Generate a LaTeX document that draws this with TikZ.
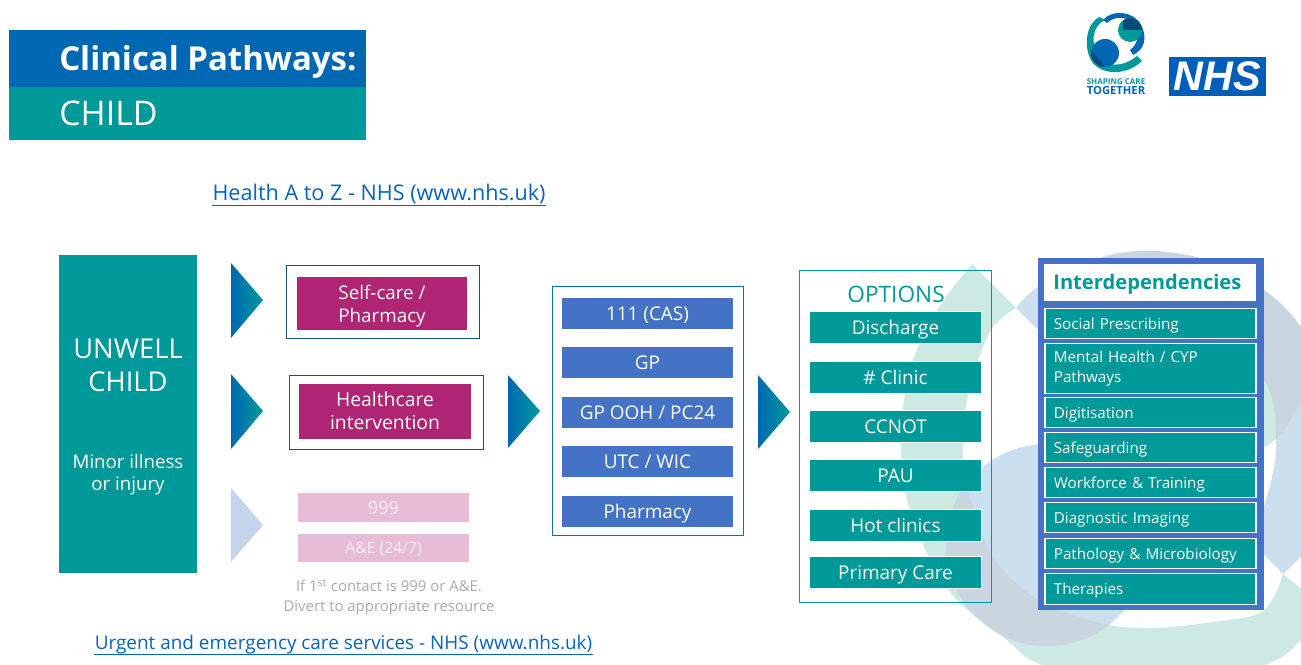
\documentclass[tikz,border=0pt]{standalone}
\usepackage{fontspec}
\usepackage{graphicx}
\setmainfont{Open Sans}
\newfontfamily\nhsfont{Liberation Sans}
\definecolor{cTeal}{HTML}{009999}
\definecolor{cBlue}{HTML}{0068B3}
\definecolor{cItem}{HTML}{4472C4}
\definecolor{cMag}{HTML}{AF2473}
\definecolor{cPale}{HTML}{E6BCD6}
\definecolor{cPaleTxt}{HTML}{F9EEF5}
\definecolor{cFrameA}{HTML}{1A5276}
\definecolor{cFrameB}{HTML}{0072BC}
\definecolor{cNote}{HTML}{A9A9A9}
\definecolor{cLink}{HTML}{0563C1}
\definecolor{bgTeal}{HTML}{CCE9E4}
\definecolor{bgBlue}{HTML}{CBDFEF}
\definecolor{bgGray}{HTML}{C9D5DF}
\definecolor{cNHS}{HTML}{005EB8}
\definecolor{cNavy}{HTML}{0B4A78}
\definecolor{cPaleArrow}{HTML}{C5D4EC}
\newcommand\fsz[1]{\fontsize{#1}{#1}\selectfont}
\newcommand\bx[7]{\node[inner sep=0pt,outer sep=0pt,minimum width={(#4-#2)*0.75pt},minimum height={(#5-#3)*0.75pt},align=center,#6] (#1) at ({(#2+#4)/2},{(#3+#5)/2}) {#7};}
\newcommand\crescentPath{(972,264) -- plot[smooth,tension=.6] coordinates {(972,264) (937,310) (913,360) (903,407) (901,453) (907,500) (927,553) (957,600) (1007,640) (1040,664) (1150,700) (1267,664) (1301,640) (1330,612)} -- (1283,574) -- plot[smooth,tension=.6] coordinates {(1283,574) (1263,611) (1213,622) (1150,628) (1100,623) (1038,600) (993,557) (970,497) (963,457) (968,395) (990,332) (1016,308)} -- cycle}
\newcommand\blobPath{(1060,300) -- plot[smooth,tension=.6] coordinates {(1060,300) (1090,262) (1145,251) (1210,261) (1264,290) (1301,327) (1330,365) (1301,403) (1277,438) (1250,455)} -- (1100,450) -- cycle}
\newcommand\arcPath{(1016,308) -- plot[smooth,tension=.6] coordinates {(1016,308) (1038,287) (1090,262) (1145,251) (1210,261) (1264,290) (1301,327) (1340,400) (1340,520) (1301,557) (1283,574)} -- (1250,541) -- plot[smooth,tension=.6] coordinates {(1250,541) (1264,507) (1276,447) (1264,380) (1200,340) (1120,330)} -- (1060,352) -- (1038,330) -- cycle}
\newcommand\capstrut{\rule[-.3em]{0pt}{1.34em}}
\tikzset{
 oneline/.style={execute at begin node=\capstrut},
 tealbox/.style={fill=cTeal,text=white},
 itembox/.style={fill=cItem,text=white,font=\fsz{14.2},oneline},
 optbox/.style={fill=cTeal,draw=white,line width=1.1pt,text=white,font=\fsz{14.2},oneline},
 depbox/.style={fill=cTeal,draw=white,line width=1.1pt,text=white,font=\fsz{11.4},align=left,text width=145pt},
 depone/.style={depbox,oneline},
 magbox/.style={fill=cMag,text=white},
 palebox/.style={fill=cPale,text=cPaleTxt,font=\fsz{13.6},oneline},
 framea/.style={draw=cFrameA,line width=.7pt},
 frameb/.style={draw=cFrameB,line width=.7pt},
 framec/.style={draw=cTeal,line width=.7pt},
 grad/.style={left color=cBlue,right color=cTeal},
 linktxt/.style={text=cLink,inner sep=0pt,oneline},
 wtext/.style={text=white,inner sep=0pt,oneline},
 multi/.style={text=white,inner sep=0pt,align=center},
}
\begin{document}
\begin{tikzpicture}[x=.75pt,y=-.75pt]
\useasboundingbox (0,0) rectangle (1301,664);
\begin{scope}
\clip (0,0) rectangle (1301,664);
\fill[bgTeal] \crescentPath;
\fill[bgTeal] \blobPath;
\fill[bgBlue] \arcPath;
\fill[bgBlue] (1047,545) circle (101);
\begin{scope}\clip \crescentPath; \fill[bgGray] (1047,545) circle (101);\end{scope}
\begin{scope}\clip \blobPath; \fill[bgGray] \arcPath;\end{scope}
\end{scope}
% title
\bx{tb}{9}{30}{366}{87}{fill=cBlue}{}
\bx{tc}{9}{87}{366}{140}{fill=cTeal}{}
\node[wtext,anchor=west,font=\bfseries\fsz{24.7}] (tt) at (59,58) {Clinical Pathways:};
\node[wtext,anchor=west,font=\fsz{25.5}] (tch) at (59,113) {CHILD};
% logo
\fill[cTeal] (1099.5,17) .. controls (1085,24) and (1083,50) .. (1093,63) .. controls (1103,75) and (1126,76) .. (1142,61) -- (1137,56) .. controls (1122,68) and (1106,67) .. (1099,56) .. controls (1090,44) and (1092,26) .. (1105,20) -- cycle;
\fill[cBlue] (1103,20) .. controls (1112,9) and (1134,11) .. (1141,25) .. controls (1148,38) and (1144,50) .. (1133,55) -- (1130,50) .. controls (1138,44) and (1140,34) .. (1135,26) .. controls (1128,15) and (1114,16) .. (1107,23) -- cycle;
\fill[cTeal] (1130,30) circle (12);
\begin{scope}\clip (1130,30) circle (12); \fill[cNavy] (1123,9) rectangle (1145,30);\end{scope}
\fill[cBlue] (1105,53) circle (14);
\begin{scope}\clip (1105,53) circle (14); \fill[cNavy] (1091,50) -- (1108,70) -- (1088,70) -- cycle;\end{scope}
\node[inner sep=0pt,text=cTeal,font=\bfseries\fsz{6.0}] (lg1) at (1116,82) {SHAPING CARE};
\node[inner sep=0pt,text=cBlue,font=\bfseries\fsz{8.4}] (lg2) at (1116,90) {TOGETHER};
\bx{nhs}{1169}{57}{1266}{96}{fill=cNHS,text=white}{\nhsfont\bfseries\itshape\fsz{31}NHS}
% links
\node[linktxt,font=\fsz{16.2}] (la) at (379,192.5) {Health A to Z - NHS (www.nhs.uk)};
\draw[cLink,line width=.7pt] ([yshift=-3.8pt]la.base west) -- ([yshift=-3.8pt]la.base east);
\node[linktxt,font=\fsz{14.2}] (lb) at (343.5,642) {Urgent and emergency care services - NHS (www.nhs.uk)};
\draw[cLink,line width=.7pt] ([yshift=-3.8pt]lb.base west) -- ([yshift=-3.8pt]lb.base east);
% unwell
\bx{unw}{59}{255}{197}{573}{tealbox}{}
\node[wtext,font=\fsz{20.5}] (un1) at (128,348.5) {UNWELL};
\node[wtext,font=\fsz{20.5}] (un2) at (128,381.5) {CHILD};
\node[wtext,font=\fsz{14}] (un3) at (128,461.5) {Minor illness};
\node[wtext,font=\fsz{14}] (un4) at (128,483.5) {or injury};
% arrows
\shade[grad] (231,263) -- (263,300) -- (231,338) -- cycle;
\shade[grad] (231,374) -- (263,411) -- (231,449) -- cycle;
\fill[cPaleArrow] (231,488) -- (263,525) -- (231,562) -- cycle;
\shade[grad] (508,375) -- (540,411) -- (508,448) -- cycle;
\shade[grad] (758,375) -- (790,412) -- (758,449) -- cycle;
% column 2
\bx{fa}{286}{265}{479}{338}{framea}{}
\bx{sc}{297}{277}{467}{330}{magbox}{}
\node[multi,font=\fsz{14.1}] (sct) at (382,306) {Self-care /\\[3.3pt]Pharmacy};
\bx{fb}{289}{375}{483}{449}{framea}{}
\bx{hc}{299}{384}{471}{439}{magbox}{}
\node[multi,font=\fsz{14.5}] (hct) at (385,410.5) {Healthcare\\[2.8pt]intervention};
\bx{n9}{298}{493}{469}{522}{palebox}{999}
\bx{ae}{298}{534}{469}{562}{palebox,font=\fsz{11.8}}{A\&E (24/7)}
\node[inner sep=0pt,text=cNote,align=center,font=\fsz{11.2}] (note) at (389,597) {If 1\textsuperscript{st} contact is 999 or A\&E.\\[3.8pt]Divert to appropriate resource};
% column 3
\bx{fc}{552}{286}{743}{535}{frameb}{}
\bx{i1}{562}{298}{733}{329}{itembox}{111 (CAS)}
\bx{i2}{562}{347}{733}{378}{itembox}{GP}
\bx{i3}{562}{397}{733}{428}{itembox}{GP OOH / PC24}
\bx{i4}{562}{446}{733}{477}{itembox}{UTC / WIC}
\bx{i5}{562}{496}{733}{527}{itembox}{Pharmacy}
% options
\bx{fo}{799}{270}{991}{602}{framec}{}
\node[inner sep=0pt,text=cTeal,font=\fsz{17},oneline] (ot) at (896,294) {OPTIONS};
\bx{o1}{809.5}{311.5}{981.5}{343.5}{optbox}{Discharge}
\bx{o2}{809.5}{361.5}{981.5}{393.5}{optbox}{\# Clinic}
\bx{o3}{809.5}{410.5}{981.5}{442.5}{optbox}{CCNOT}
\bx{o4}{809.5}{459.5}{981.5}{491.5}{optbox}{PAU}
\bx{o5}{809.5}{509.5}{981.5}{541.5}{optbox}{Hot clinics}
\bx{o6}{809.5}{556.5}{981.5}{588.5}{optbox}{Primary Care}
% interdependencies
\bx{dp}{1038}{258}{1264}{610}{fill=cItem}{}
\bx{dh}{1044}{264}{1256}{301}{fill=white,text=cTeal,font=\bfseries\fsz{15.1},align=left,text width=145pt,oneline}{Interdependencies}
\bx{d1}{1045}{308.5}{1256}{338.5}{depone}{Social Prescribing}
\bx{d2}{1045}{343.5}{1256}{393.5}{depbox}{Mental Health / CYP\\[3pt]Pathways}
\bx{d3}{1045}{397.5}{1256}{427.5}{depone}{Digitisation}
\bx{d4}{1045}{432.5}{1256}{462.5}{depone}{Safeguarding}
\bx{d5}{1045}{467.5}{1256}{497.5}{depone}{Workforce \& Training}
\bx{d6}{1045}{502.5}{1256}{532.5}{depone}{Diagnostic Imaging}
\bx{d7}{1045}{538.5}{1256}{568.5}{depone}{Pathology \& Microbiology}
\bx{d8}{1045}{573.5}{1256}{604.5}{depone}{Therapies}
\end{tikzpicture}
\end{document}
